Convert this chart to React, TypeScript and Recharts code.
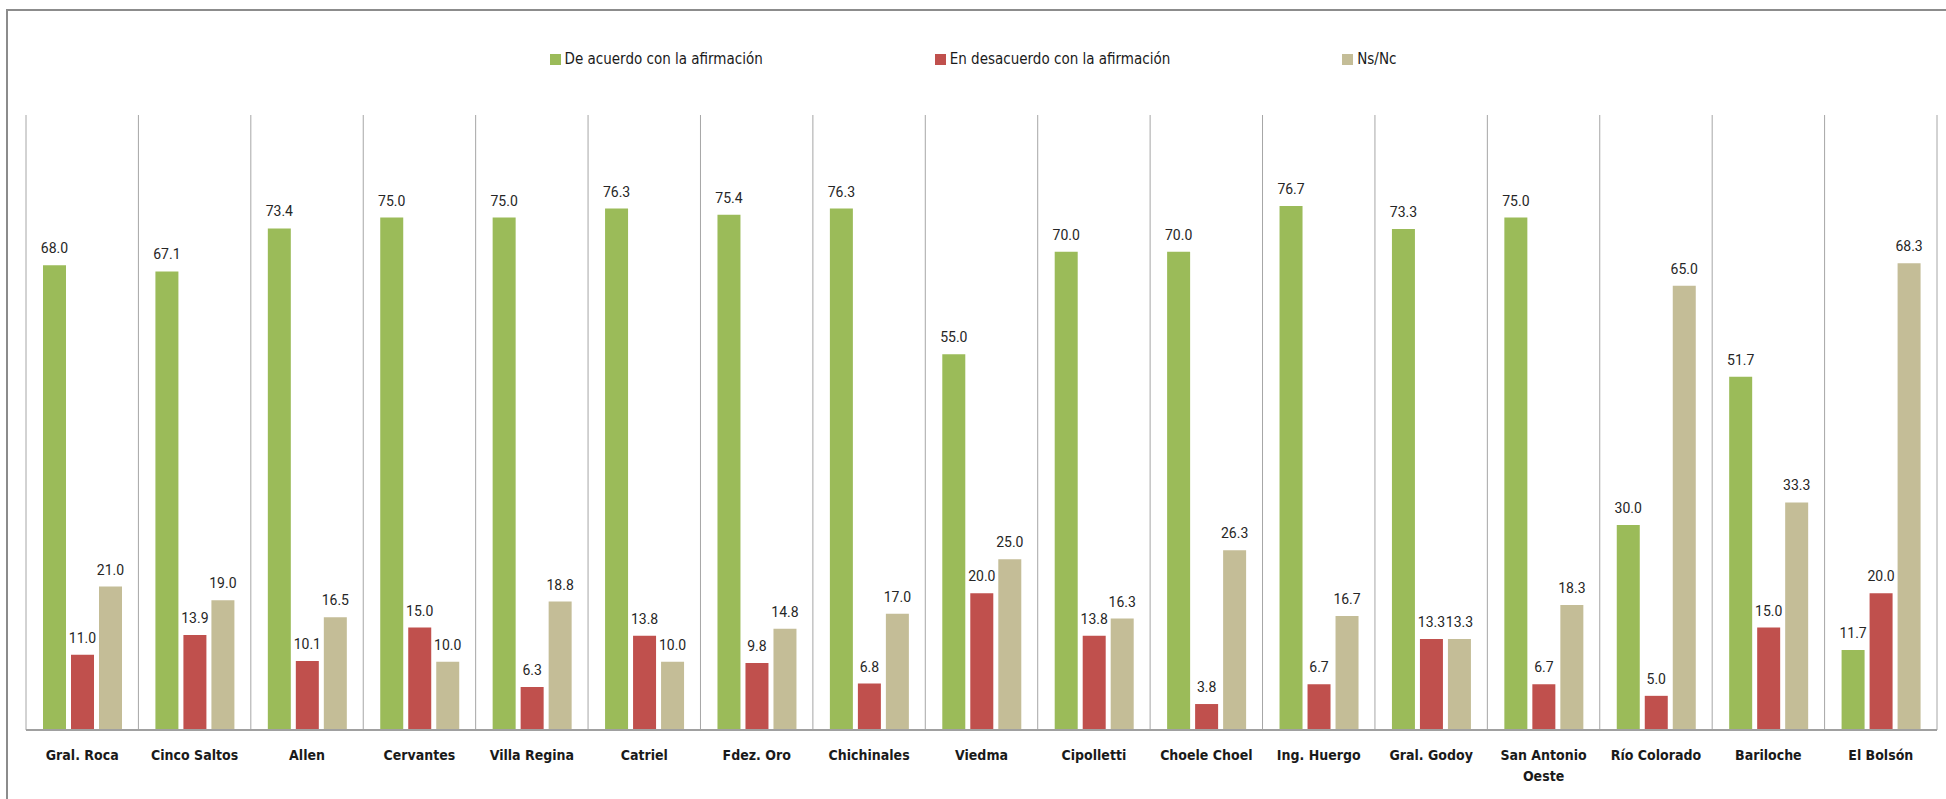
import { BarChart, Bar, XAxis, YAxis, CartesianGrid, LabelList, Text } from 'recharts';

const CATEGORIES = [
  'Gral. Roca', 'Cinco Saltos', 'Allen', 'Cervantes', 'Villa Regina', 'Catriel',
  'Fdez. Oro', 'Chichinales', 'Viedma', 'Cipolletti', 'Choele Choel', 'Ing. Huergo',
  'Gral. Godoy', 'San Antonio Oeste', 'Río Colorado', 'Bariloche', 'El Bolsón',
];

const ACUERDO = [68.0, 67.1, 73.4, 75.0, 75.0, 76.3, 75.4, 76.3, 55.0, 70.0, 70.0, 76.7, 73.3, 75.0, 30.0, 51.7, 11.7];
const DESACUERDO = [11.0, 13.9, 10.1, 15.0, 6.3, 13.8, 9.8, 6.8, 20.0, 13.8, 3.8, 6.7, 13.3, 6.7, 5.0, 15.0, 20.0];
const NSNC = [21.0, 19.0, 16.5, 10.0, 18.8, 10.0, 14.8, 17.0, 25.0, 16.3, 26.3, 16.7, 13.3, 18.3, 65.0, 33.3, 68.3];

const SERIES = [
  { key: 'acuerdo', name: 'De acuerdo con la afirmación', color: '#9BBB59' },
  { key: 'desacuerdo', name: 'En desacuerdo con la afirmación', color: '#C0504D' },
  { key: 'nsnc', name: 'Ns/Nc', color: '#C4BD97' },
];

const data = CATEGORIES.map((name, i) => ({
  name,
  pos: i + 0.5,
  acuerdo: ACUERDO[i],
  desacuerdo: DESACUERDO[i],
  nsnc: NSNC[i],
}));

// category boundaries for the vertical separators
const BOUNDARIES = CATEGORIES.map((_, i) => i).concat(CATEGORIES.length);

const NARROW = '"Liberation Sans Narrow", "Arial Narrow", "DejaVu Sans Condensed", sans-serif';

function CategoryTick(props: any) {
  const { x, y, payload } = props;
  return (
    <Text
      x={x}
      y={y + 12}
      width={112}
      textAnchor="middle"
      verticalAnchor="start"
      lineHeight={21}
      fill="#1a1a1a"
      style={{ fontFamily: NARROW, fontSize: 14, fontWeight: 700 }}
    >
      {payload.value}
    </Text>
  );
}

export default function App() {
  return (
    <div style={{ position: 'absolute', left: 0, top: 0, width: 1946, height: 799, overflow: 'hidden', background: '#fff' }}>
      <div
        style={{
          position: 'absolute', left: 6, top: 9, width: 1960, height: 820,
          borderTop: '2px solid #8c8c8c', borderLeft: '2px solid #8c8c8c',
        }}
      />
      <div
        style={{
          position: 'absolute', left: 0, top: 50, width: 1946,
          display: 'flex', justifyContent: 'center', gap: 172,
          fontFamily: NARROW, fontSize: 15, color: '#1a1a1a',
        }}
      >
        {SERIES.map((s) => (
          <div key={s.key} style={{ display: 'flex', alignItems: 'center', gap: 4 }}>
            <span style={{ width: 11, height: 11, background: s.color, display: 'inline-block' }} />
            <span>{s.name}</span>
          </div>
        ))}
      </div>
      <div style={{ position: 'absolute', left: 0, top: 0 }}>
        <BarChart
          width={1946}
          height={799}
          data={data}
          barSize={23}
          barGap={5}
          margin={{ top: 115, right: 9, left: 26, bottom: 9 }}
        >
          <CartesianGrid xAxisId="grid" horizontal={false} stroke="#a6a6a6" />
          <XAxis
            xAxisId="grid"
            dataKey="pos"
            type="number"
            domain={[0, CATEGORIES.length]}
            ticks={BOUNDARIES}
            allowDataOverflow
            hide
            height={0}
          />
          <XAxis
            xAxisId="cat"
            dataKey="name"
            interval={0}
            height={60}
            tickLine={false}
            axisLine={{ stroke: '#a0a0a0', strokeWidth: 2 }}
            tick={<CategoryTick />}
          />
          <YAxis hide domain={[0, 90]} />
          {SERIES.map((s) => (
            <Bar key={s.key} xAxisId="cat" dataKey={s.key} name={s.name} fill={s.color} isAnimationActive={false}>
              <LabelList
                dataKey={s.key}
                position="top"
                offset={12}
                formatter={(v: any) => Number(v).toFixed(1)}
                style={{ fontFamily: 'Roboto, sans-serif', fontSize: 14, fill: '#262626' }}
              />
            </Bar>
          ))}
        </BarChart>
      </div>
    </div>
  );
}
